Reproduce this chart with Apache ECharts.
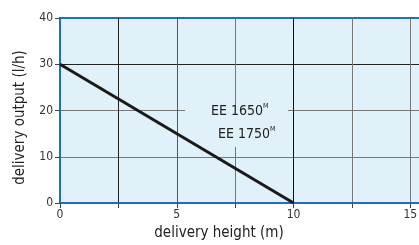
<!DOCTYPE html>
<html>
<head>
<meta charset="utf-8">
<script src="https://cdn.jsdelivr.net/npm/echarts@6/dist/echarts.min.js"></script>
<style>
  html, body { margin: 0; padding: 0; background: #fff; }
  #chart { width: 419px; height: 245px; }
</style>
</head>
<body>
<div id="chart"></div>
<script>
// delivery height (m) / delivery output (l/h)
var heights = [0, 10];
var outputs = [30, 0];
var models = ['EE 1650', 'EE 1750'];

var font = '"Liberation Sans Narrow", "DejaVu Sans Condensed", "Liberation Sans", sans-serif';
var blue = '#1f6fbf';
var bg = '#e0f1fa';

var chart = echarts.init(document.getElementById('chart'), null, { renderer: 'canvas' });

var lineData = [];
for (var i = 0; i < heights.length; i++) {
  lineData.push([heights[i], outputs[i]]);
}

var option = {
  animation: false,
  grid: {
    left: 60,
    top: 18,
    right: -3,
    height: 185,
    outerBoundsMode: 'none',
    containLabel: false,
    show: true,
    backgroundColor: bg,
    borderColor: blue,
    borderWidth: 2
  },
  xAxis: {
    type: 'value',
    min: 0,
    max: 15.5,
    interval: 2.5,
    name: 'delivery height (m)',
    nameLocation: 'middle',
    nameGap: 22,
    nameTextStyle: { fontFamily: font, fontSize: 15, color: '#222', padding: [0, 44, 0, 0] },
    axisLine: { show: true, lineStyle: { color: blue, width: 2 } },
    axisTick: { show: true, length: 5, lineStyle: { color: '#444' } },
    axisLabel: {
      fontFamily: font, fontSize: 12, color: '#333', margin: 6,
      formatter: function (v) { return v % 5 === 0 ? String(v) : ''; }
    },
    splitLine: {
      show: true,
      lineStyle: { color: ['#555', '#222', '#555', '#777', '#111', '#777', '#777', '#777'], width: 1 }
    }
  },
  yAxis: {
    type: 'value',
    min: 0,
    max: 40,
    interval: 10,
    name: 'delivery output (l/h)',
    nameLocation: 'middle',
    nameGap: 32,
    nameTextStyle: { fontFamily: font, fontSize: 15, color: '#222', padding: [0, 14, 0, 0] },
    axisLine: { show: true, lineStyle: { color: blue, width: 2 } },
    axisTick: { show: true, length: 5, lineStyle: { color: '#444' } },
    axisLabel: { fontFamily: font, fontSize: 12, color: '#333', margin: 7 },
    splitLine: {
      show: true,
      lineStyle: { color: ['#555', '#777', '#777', '#222', blue], width: 1 }
    }
  },
  graphic: {
    elements: [
      // gap in the grid behind the model labels
      { type: 'rect', z: 10, left: 185, top: 110, shape: { width: 103, height: 37 }, style: { fill: bg } },
      { type: 'text', z: 12, left: 211, top: 104, style: { text: models[0], font: '14px ' + font, fill: '#222' } },
      { type: 'text', z: 12, left: 263, top: 103, style: { text: 'M', font: '7px ' + font, fill: '#222' } },
      { type: 'text', z: 12, left: 218, top: 127, style: { text: models[1], font: '14px ' + font, fill: '#222' } },
      { type: 'text', z: 12, left: 270, top: 126, style: { text: 'M', font: '7px ' + font, fill: '#222' } }
    ]
  },
  series: [{
    type: 'line',
    z: 11,
    data: lineData,
    symbol: 'none',
    lineStyle: { color: '#1a1a1a', width: 3 }
  }]
};
chart.setOption(option);
</script>
</body>
</html>
